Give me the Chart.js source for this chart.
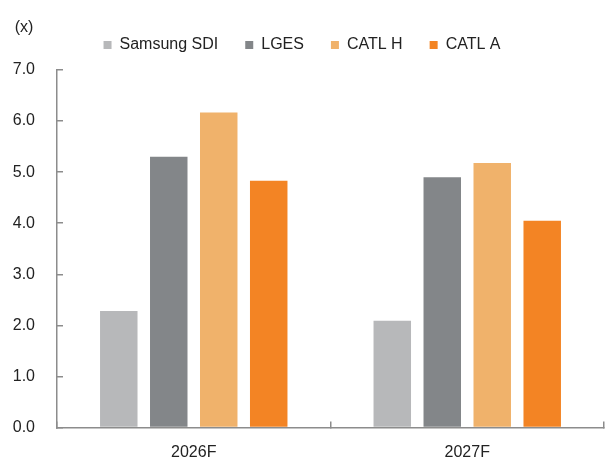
<!DOCTYPE html>
<html>
<head>
<meta charset="utf-8">
<script src="https://cdn.jsdelivr.net/npm/chart.js@4/dist/chart.umd.min.js"></script>
<style>
  body { margin: 0; background: #fff; }
  #wrap { width: 605px; height: 461px; position: relative; }
</style>
</head>
<body>
<div id="wrap"><canvas id="chart"></canvas></div>
<script>
// datos (x)
const categorias = ['2026F', '2027F'];
const series = ['Samsung SDI', 'LGES', 'CATL H', 'CATL A'];
const samsungSDI = [2.28, 2.09];
const lges = [5.30, 4.90];
const catlH = [6.17, 5.18];
const catlA = [4.83, 4.05];
const colores = ['#B7B8BA', '#838689', '#F0B26B', '#F38424'];
const yTicks = [0, 1, 2, 3, 4, 5, 6, 7];
const unidad = '(x)';

const fuente = "'Liberation Sans', Arial, sans-serif";
const ejeColor = '#8C8C8C';

//texto de unidad arriba del eje
const unidadLabel = {
    id: 'unidadLabel',
    afterDraw(chart) {
        const { ctx } = chart;
        ctx.save();
        ctx.font = '16px ' + fuente;
        ctx.fillStyle = '#222';
        ctx.textAlign = 'center';
        ctx.textBaseline = 'middle';
        ctx.fillText(unidad, 24, 28);
        ctx.restore();
    }
}
//Margen debajo de la legenda
const legendMargin = {
    id: 'legendMargin',
    beforeInit(chart) {
        const fitValue = chart.legend.fit;
        chart.legend.fit = function fit() {
            fitValue.bind(chart.legend)();
            return this.height += 7;
        }
    }
}

const valores = [samsungSDI, lges, catlH, catlA];
const data = {
    labels: categorias,
    datasets: series.map((s, i) => ({
        label: s,
        data: valores[i],
        backgroundColor: colores[i],
        borderWidth: 0,
        categoryPercentage: 0.731,
        barPercentage: 0.75
    }))
}

const config = {
    type: 'bar',
    data,
    options: {
        responsive: true,
        maintainAspectRatio: false,
        animation: false,
        layout: {
            padding: { top: 10, right: 1, bottom: 0, left: 0 }
        },
        scales: {
            x: {
                afterFit(scale) {
                    scale.height = 33.5;
                },
                grid: {
                    offset: true,
                    drawOnChartArea: false,
                    drawTicks: true,
                    tickLength: -6,
                    color: ejeColor,
                    lineWidth: 1.5
                },
                border: { color: ejeColor, width: 1.5 },
                ticks: {
                    color: '#222',
                    padding: 21,
                    font: { family: fuente, size: 16 }
                }
            },
            y: {
                min: 0,
                max: 7,
                afterBuildTicks(scale) {
                    scale.ticks = yTicks.map(v => ({ value: v }));
                },
                afterFit(scale) {
                    scale.width = 57;
                    scale.paddingTop = 0;
                    scale.paddingBottom = 0;
                },
                grid: {
                    drawOnChartArea: false,
                    drawTicks: true,
                    tickLength: -6,
                    color: ejeColor,
                    lineWidth: 1.5
                },
                border: { color: ejeColor, width: 1.5 },
                ticks: {
                    color: '#222',
                    padding: 28,
                    font: { family: fuente, size: 16 },
                    callback: v => Number(v).toFixed(1)
                }
            }
        },
        plugins: {
            legend: {
                position: 'top',
                align: 'center',
                labels: {
                    boxWidth: 8,
                    boxHeight: 8,
                    padding: 27,
                    color: '#222',
                    font: { family: fuente, size: 16 }
                }
            },
            tooltip: { enabled: false }
        }
    },
    plugins: [unidadLabel, legendMargin]
}

var myChart = new Chart(document.getElementById('chart'), config);
</script>
</body>
</html>
